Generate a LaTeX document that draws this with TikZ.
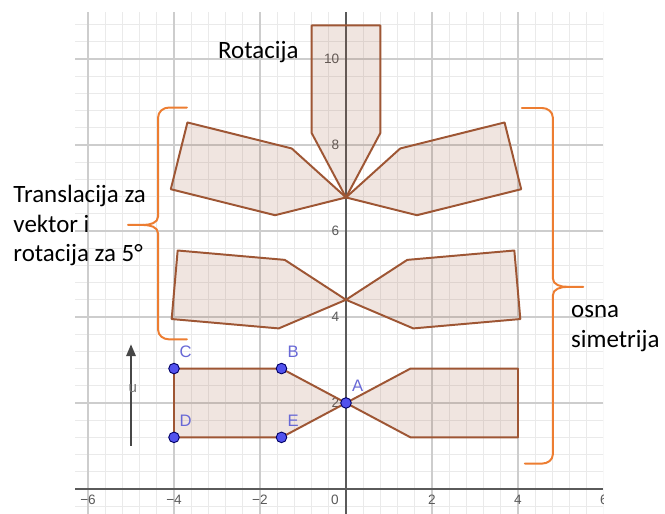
\documentclass[tikz,border=0pt]{standalone}
\usepackage{fontspec}
\setmainfont{Carlito}
\newfontfamily\geofont{Liberation Sans}
\usetikzlibrary{positioning,calc,arrows.meta}
\definecolor{polyedge}{RGB}{158,86,52}
\definecolor{bracecol}{RGB}{237,125,49}
\definecolor{gridminor}{RGB}{234,234,234}
\definecolor{gridmajor}{RGB}{205,205,205}
\definecolor{axiscol}{RGB}{90,90,90}
\definecolor{ptfill}{RGB}{82,82,238}
\definecolor{ptlabel}{RGB}{104,104,214}
\tikzset{
  polyshape/.style={draw=polyedge,line width=1.3pt,line join=round,fill=polyedge,fill opacity=0.15},
  bracestyle/.style={draw=bracecol,line width=1.3pt,line cap=round,line join=round},
  axisline/.style={draw=axiscol,line width=0.9pt},
  vecline/.style={draw=black!72,line width=1.8pt,-{Triangle[length=8pt,width=6pt]}},
  geopoint/.style={circle,fill=ptfill,draw=black!60!blue,line width=0.6pt,inner sep=0pt,minimum size=7pt},
  ptname/.style={font=\geofont\fontsize{11}{13}\selectfont,text=ptlabel,inner sep=0pt},
  ticklbl/.style={font=\geofont\fontsize{9}{11}\selectfont,text=axiscol,inner sep=0pt},
  notetext/.style={font=\fontsize{16.5}{19.8}\selectfont,align=left,inner sep=0pt}
}
\newcommand{\arrowpoly}[1]{%
  \draw[polyshape,#1] (0,0) -- (-1.5,0.8) -- (-4,0.8) -- (-4,-0.8) -- (-1.5,-0.8) -- cycle;
}
\newcommand{\geopt}[3]{%
  \node[geopoint] (p#1) at (#2) {};
  \node[ptname] (l#1) at ($(p#1)+(0.27,0.39)$) {#3};
}

\begin{document}
\begin{tikzpicture}[x=1cm,y=1cm]
\fill[white] (-8.047,-0.581) rectangle (7.419,11.372);
\useasboundingbox (-8.047,-0.581) rectangle (7.419,11.372);
\begin{scope}
  \clip (-6.3,-0.581) rectangle (5.98,11.09);
  \draw[gridminor,line width=0.6pt,step=0.4] (-6.4,-0.8) grid (6.4,11.2);
  \draw[gridmajor,line width=0.8pt,step=2] (-6.4,-0.8) grid (6.4,11.2);
  \node[ticklbl] (xt6) at (6,-0.26) {6};
\end{scope}
\draw[axisline] (-6.3,0) -- (5.98,0);
\draw[axisline] (0,-0.581) -- (0,11.09);
\foreach \x/\t [count=\i] in {-6/−6,-4/−4,-2/−2,2/2,4/4}
  \node[ticklbl] (xt\i) at (\x,-0.26) {\t};
\node[ticklbl] (xt0) at (-0.26,-0.26) {0};
\foreach \y [count=\i] in {2,4,...,10}
  \node[ticklbl,anchor=east] (yt\i) at (-0.15,\y) {\y};

\arrowpoly{shift={(0,2)}}
\arrowpoly{shift={(0,2)},xscale=-1}
\arrowpoly{shift={(0,4.4)},rotate=-5}
\arrowpoly{shift={(0,4.4)},xscale=-1,rotate=-5}
\arrowpoly{shift={(0,6.78)},rotate=-14}
\arrowpoly{shift={(0,6.78)},xscale=-1,rotate=-14}
\arrowpoly{shift={(0,6.78)},rotate=-90}

\coordinate (u0) at (-5,1);
\coordinate (u1) at (-5,3.37);
\draw[vecline] (u0) -- (u1);
\node[ticklbl,font=\geofont\fontsize{10}{12}\selectfont,text=black!55] (ulbl) at (-4.96,2.33) {u};

\geopt{C}{-4,2.8}{C}
\geopt{B}{-1.5,2.8}{B}
\geopt{D}{-4,1.2}{D}
\geopt{E}{-1.5,1.2}{E}
\geopt{A}{0,2}{A}

\node[notetext,anchor=base west] (rot) at (-2.98,10.0) {Rotacija};
\node[notetext,anchor=base west] (trans) at (-7.74,5.28) {Translacija za\\vektor i\\rotacija za 5°};
\node[notetext,anchor=base west] (osna) at (5.23,3.30) {osna\\simetrija};

\draw[bracestyle] (-3.70,8.87) -- (-4.12,8.87) to[out=180,in=90] (-4.37,8.64)
  -- (-4.37,6.34) to[out=-90,in=0] (-4.72,6.14) -- (-5.07,6.14);
\draw[bracestyle] (-4.72,6.14) to[out=0,in=90] (-4.37,5.94)
  -- (-4.37,3.70) to[out=-90,in=180] (-4.12,3.48) -- (-3.70,3.48);
\draw[bracestyle] (4.09,8.86) -- (4.56,8.86) to[out=0,in=90] (4.81,8.64)
  -- (4.81,4.90) to[out=-90,in=180] (5.15,4.70) -- (5.52,4.70);
\draw[bracestyle] (5.15,4.70) to[out=180,in=90] (4.81,4.50)
  -- (4.81,0.80) to[out=-90,in=0] (4.56,0.59) -- (4.16,0.59);
\end{tikzpicture}
\end{document}
